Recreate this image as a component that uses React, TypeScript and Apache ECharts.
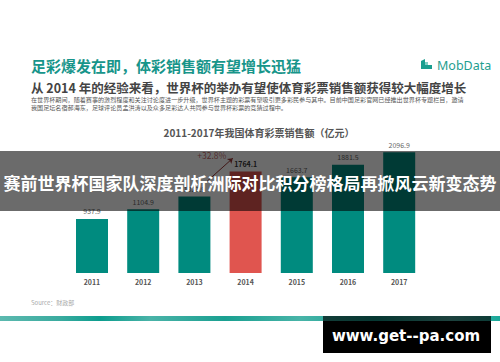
import React, { useEffect, useRef } from "react";
import * as echarts from "echarts";

const years = ["2011", "2012", "2013", "2014", "2015", "2016", "2017"];
const sales = [937.9, 1104.9, 1327.9, 1764.1, 1663.7, 1881.5, 2096.9];
const highlightYear = "2014";
const growthLabel = "+32.8%";
// annotation arrow (x as category index on hidden value axis, y in 亿元)
const arrowFrom = [2.25, 1594];
const arrowTo = [2.75, 1993];
const growthLabelPos = [2.34, 2045];

const mainTitle = "足彩爆发在即，体彩销售额有望增长迅猛";
const subTitle = "从 2014 年的经验来看，世界杯的举办有望使体育彩票销售额获得较大幅度增长";
const paraLines = [
  "在世界杯期间，随着赛事的激烈程度和关注讨论度进一步升级，世界杯主题的彩票有望吸引更多彩民参与其中。目前中国足彩官网已经推出世界杯专题栏目，邀请",
  "我国足坛名宿郝海东，足球评论员孟洪涛以及众多足彩达人共同参与世界杯彩票的竞猜过程中。",
];
const chartTitle = "2011-2017年我国体育彩票销售额（亿元）";
const sourceText = "Source：财政部";
const bannerText = "赛前世界杯国家队深度剖析洲际对比积分榜格局再掀风云新变态势";
const watermark = "www.get--pa.com";

const CJK = '"Noto Sans CJK SC", "Noto Sans", sans-serif';
const TEAL = "#008b7f";
const RED = "#e0554f";

export default function App() {
  const ref = useRef<HTMLDivElement>(null);
  useEffect(() => {
    document.body.style.margin = "0";
    const chart = echarts.init(ref.current!, null, { renderer: "svg" });
    const option: any = {
      animation: false,
      backgroundColor: "#ffffff",
      textStyle: { fontFamily: CJK },
      grid: { left: 66.4, right: 75.2, top: 129, bottom: 89 },
      xAxis: [
        {
          type: "category",
          data: years,
          axisLine: { show: false },
          axisTick: { show: false },
          axisLabel: { fontSize: 7, color: "#555", fontWeight: "bold", margin: 5, fontFamily: CJK },
        },
        { type: "value", min: -0.5, max: 6.5, show: false },
      ],
      yAxis: { type: "value", min: 0, max: 2500, show: false, splitLine: { show: false } },
      series: [
        {
          type: "bar",
          xAxisIndex: 0,
          barWidth: 32,
          data: sales.map((v, i) => ({
            value: v,
            itemStyle: { color: years[i] === highlightYear ? RED : TEAL },
            label:
              years[i] === highlightYear
                ? { fontWeight: "bold", color: "#333" }
                : undefined,
          })),
          label: {
            show: true,
            position: "top",
            distance: 4,
            fontSize: 7,
            color: "#666",
            fontFamily: CJK,
          },
        },
        {
          type: "scatter",
          xAxisIndex: 1,
          symbolSize: 0,
          data: [growthLabelPos],
          label: {
            show: true,
            position: "inside",
            formatter: growthLabel,
            fontSize: 8.5,
            color: "#b5423f",
            fontFamily: CJK,
          },
          markLine: {
            silent: true,
            symbol: ["none", "arrow"],
            symbolSize: 5,
            label: { show: false },
            lineStyle: { color: "#9b3a38", width: 1, type: "solid" },
            data: [[{ coord: arrowFrom }, { coord: arrowTo }]],
          },
        },
      ],
      graphic: [
        {
          type: "text",
          x: 31,
          y: 65,
          style: { text: mainTitle, font: `bold 15px ${CJK}`, fill: "#17958a", align: "left", verticalAlign: "middle" },
        },
        {
          type: "polygon",
          shape: { points: [[421, 69], [421, 61], [425, 59], [425, 65], [432, 65], [432, 69]] },
          style: { fill: "#1a9e8f" },
        },
        {
          type: "rect",
          shape: { x: 425, y: 62, width: 3, height: 3 },
          style: { fill: "#7fcdc3" },
        },
        {
          type: "text",
          x: 437,
          y: 65,
          style: { text: "MobData", font: `12.5px "Noto Sans", sans-serif`, fill: "#1f9e90", align: "left", verticalAlign: "middle" },
        },
        {
          type: "text",
          x: 31,
          y: 87,
          style: { text: subTitle, font: `bold 12.5px ${CJK}`, fill: "#444", align: "left", verticalAlign: "middle" },
        },
        ...paraLines.map((t, i) => ({
          type: "text",
          x: 31,
          y: 99.5 + i * 7.5,
          style: { text: t, font: `6.1px ${CJK}`, fill: "#555", align: "left", verticalAlign: "middle" },
        })),
        {
          type: "text",
          x: 259,
          y: 132,
          style: { text: chartTitle, font: `bold 10px ${CJK}`, fill: "#555", align: "center", verticalAlign: "middle" },
        },
        {
          type: "text",
          x: 31,
          y: 302,
          style: { text: sourceText, font: `6px ${CJK}`, fill: "#aaa", align: "left", verticalAlign: "middle" },
        },
        {
          type: "rect",
          shape: { x: 0, y: 316, width: 500, height: 5 },
          style: {
            fill: new echarts.graphic.LinearGradient(0, 0, 1, 0, [
              { offset: 0, color: "#5cb9af" },
              { offset: 0.12, color: "#3aab9f" },
              { offset: 0.2, color: "#0c9d8e" },
              { offset: 0.3, color: "#4ab3a8" },
              { offset: 0.45, color: "#1aa091" },
              { offset: 0.6, color: "#48b4a8" },
              { offset: 0.75, color: "#12a090" },
              { offset: 0.9, color: "#55bcb1" },
              { offset: 1, color: "#1aa899" },
            ]),
          },
        },
        {
          type: "rect",
          z: 100,
          shape: { x: 0, y: 151, width: 500, height: 60 },
          style: { fill: "rgba(0,0,0,0.58)" },
        },
        {
          type: "text",
          z: 101,
          x: 250,
          y: 182,
          style: { text: bannerText, font: `bold 17px ${CJK}`, fill: "#ffffff", align: "center", verticalAlign: "middle" },
        },
        {
          type: "rect",
          z: 100,
          shape: { x: 323, y: 316, width: 168, height: 5 },
          style: { fill: "rgba(0,0,0,0.65)" },
        },
        {
          type: "rect",
          z: 100,
          shape: { x: 323, y: 321, width: 168, height: 32 },
          style: { fill: "#000000" },
        },
        {
          type: "text",
          z: 101,
          x: 406,
          y: 336,
          style: { text: watermark, font: `bold 15px "DejaVu Sans", sans-serif`, fill: "#ffffff", align: "center", verticalAlign: "middle" },
        },
      ],
    };
    chart.setOption(option);
    return () => chart.dispose();
  }, []);
  return (
    <div
      ref={ref}
      style={{ position: "fixed", left: 0, top: 0, width: 500, height: 362 }}
    />
  );
}
